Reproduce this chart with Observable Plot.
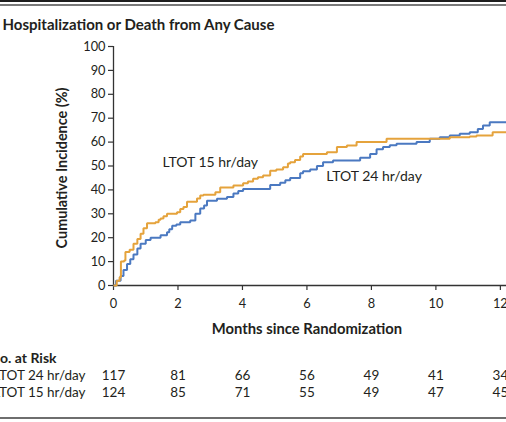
<!DOCTYPE html>
<html>
<head>
<meta charset="utf-8">
<script src="https://cdn.jsdelivr.net/npm/d3@7"></script>
<script src="https://cdn.jsdelivr.net/npm/@observablehq/plot@0.6"></script>
<style>
  html, body { margin: 0; padding: 0; background: #fff; }
  #wrap { position: relative; width: 506px; height: 422px; overflow: hidden; font-family: Lato, "Open Sans", sans-serif; }
  .bar { position: absolute; left: 0; width: 506px; }
</style>
</head>
<body>
<div id="wrap">
  <div class="bar" style="top:0;height:2px;background:#1e1e1e"></div>
  <div class="bar" style="top:4px;height:2px;background:#7a7a7a"></div>
  <div class="bar" style="top:417px;height:2px;background:#6e6e6e"></div>
</div>
<script>
// ---- data ----
const title = "Hospitalization or Death from Any Cause";
const yLabel = "Cumulative Incidence (%)";
const xLabel = "Months since Randomization";
const riskTitle = "No. at Risk";
const seriesNames = ["LTOT 24 hr/day", "LTOT 15 hr/day"];
const xTicks = [0, 2, 4, 6, 8, 10, 12];
const yTicks = [0, 10, 20, 30, 40, 50, 60, 70, 80, 90, 100];
const risk24 = [117, 81, 66, 56, 49, 41, 34];
const risk15 = [124, 85, 71, 55, 49, 47, 45];

// LTOT 15 hr/day (orange) step curve
const t15 = [0, 0.1, 0.19, 0.23, 0.33, 0.37, 0.5, 0.62, 0.74, 0.84, 0.93, 1.04, 1.3, 1.4, 1.46, 1.55, 1.66, 1.97, 2.07, 2.17, 2.28, 2.59, 2.69, 2.79, 3.16, 3.31, 3.72, 4.02, 4.17, 4.33, 4.48, 4.64, 4.86, 5.05, 5.26, 5.41, 5.48, 5.63, 5.79, 5.88, 6.62, 6.93, 7.24, 7.54, 8.47, 10.43, 11.05, 11.26, 11.76, 12.19];
const v15 = [0, 2, 3.5, 10, 10.5, 14, 15, 17.5, 19.5, 21.7, 24, 26, 26.5, 27.5, 28, 29, 30, 30.7, 32, 32.8, 35, 36.4, 37.7, 38, 39, 41, 41.8, 42.8, 43.5, 44.7, 45.3, 46, 48, 48.5, 49.5, 51, 51.6, 52.5, 54, 55, 55.8, 57.9, 58.6, 60, 61.4, 62, 62.3, 62.8, 64.1, 64.1];

// LTOT 24 hr/day (blue) step curve
const t24 = [0, 0.08, 0.22, 0.31, 0.42, 0.52, 0.62, 0.74, 0.84, 1.0, 1.15, 1.46, 1.66, 1.73, 1.82, 1.95, 2.07, 2.38, 2.54, 2.69, 2.81, 2.9, 3.21, 3.52, 3.72, 3.87, 4.02, 4.86, 5.17, 5.33, 5.48, 5.79, 5.88, 6.1, 6.31, 6.5, 6.81, 7.65, 7.96, 8.16, 8.36, 8.57, 8.78, 9.4, 9.81, 10.12, 10.43, 10.74, 11.05, 11.3, 11.46, 11.67, 12.19];
const v24 = [0, 2, 4, 6.5, 9, 11, 13, 15.5, 17.5, 19, 20, 21, 22.3, 23.5, 25, 25.5, 26.5, 27.2, 30, 32.2, 33.5, 35.5, 36.3, 37, 38.5, 39.5, 40.4, 42, 43, 44, 45, 47, 47.8, 48.5, 50, 51.6, 52.3, 53.5, 55, 57, 58, 58.7, 59.3, 60, 61.4, 62, 62.8, 63.5, 64.1, 65.5, 66.9, 68.3, 68.3];

// curve-label anchors (months, %)
const labelMonths = [6.6, 1.52];
const labelPcts = [45.6, 51.5];

const colors = ["#4b79c1", "#e5a33c"];

// ---- build table ----
const curves = [
  ...t24.map((t, i) => ({month: t, pct: v24[i], series: seriesNames[0]})),
  ...t15.map((t, i) => ({month: t, pct: v15[i], series: seriesNames[1]}))
];
const riskRows = [
  ...xTicks.map((m, i) => ({month: m, n: risk24[i], row: 0})),
  ...xTicks.map((m, i) => ({month: m, n: risk15[i], row: 1}))
];
const curveLabels = seriesNames.map((s, i) => ({month: labelMonths[i], pct: labelPcts[i], text: s}));

const ink = "#231f20";
const font = "Lato, 'Open Sans', sans-serif";
const chart = Plot.plot({
  width: 506,
  height: 422,
  marginLeft: 113,
  marginRight: 0,
  marginTop: 46,
  marginBottom: 137,
  style: {fontFamily: font, fontSize: "12.5px", color: ink, background: "transparent", overflow: "hidden"},
  x: {domain: [0, 12.19]},
  y: {domain: [0, 100]},
  color: {domain: seriesNames, range: colors},
  marks: [
    Plot.axisY({ticks: yTicks, tickSize: 5, tickPadding: 3, label: null, fontSize: 12.8, stroke: "#333", strokeWidth: 1.2}),
    Plot.axisX({ticks: xTicks, tickSize: 5, tickPadding: 8, label: null, fontSize: 12.8, stroke: "#333", strokeWidth: 1.2}),
    Plot.ruleX([0], {stroke: "#333", strokeWidth: 1.3}),
    Plot.ruleY([0], {stroke: "#333", strokeWidth: 1.3}),
    Plot.line(curves, {x: "month", y: "pct", z: "series", stroke: "series", curve: "step-after", strokeWidth: 2, strokeLinejoin: "miter", strokeLinecap: "butt"}),
    Plot.text(curveLabels, {x: "month", y: "pct", text: "text", textAnchor: "start", fontSize: 14, fill: ink}),
    // title
    Plot.text([title], {frameAnchor: "top-left", textAnchor: "start", dx: -111, dy: -27, fontSize: 15, fontWeight: "bold", fill: ink}),
    // y label
    Plot.text([yLabel], {frameAnchor: "left", textAnchor: "middle", rotate: -90, dx: -51, dy: 2, fontSize: 14.4, fontWeight: "bold", fill: ink}),
    // x label
    Plot.text([xLabel], {x: () => 6, frameAnchor: "bottom", textAnchor: "middle", dy: 48, fontSize: 14.8, fontWeight: "bold", fill: ink}),
    // risk table
    Plot.text([riskTitle], {frameAnchor: "bottom-left", textAnchor: "start", dx: -124, dy: 77, fontSize: 14, fontWeight: "bold", fill: ink}),
    Plot.text([seriesNames[0]], {frameAnchor: "bottom-left", textAnchor: "end", dx: -28, dy: 94, fontSize: 13.5, fill: ink}),
    Plot.text([seriesNames[1]], {frameAnchor: "bottom-left", textAnchor: "end", dx: -28, dy: 111, fontSize: 13.5, fill: ink}),
    Plot.text(riskRows.filter(d => d.row === 0), {x: "month", frameAnchor: "bottom", textAnchor: "middle", text: "n", dy: 94, fontSize: 13.5, fill: ink}),
    Plot.text(riskRows.filter(d => d.row === 1), {x: "month", frameAnchor: "bottom", textAnchor: "middle", text: "n", dy: 111, fontSize: 13.5, fill: ink})
  ]
});
chart.style.position = "absolute";
chart.style.left = "0";
chart.style.top = "0";
document.getElementById("wrap").appendChild(chart);
</script>
</body>
</html>
